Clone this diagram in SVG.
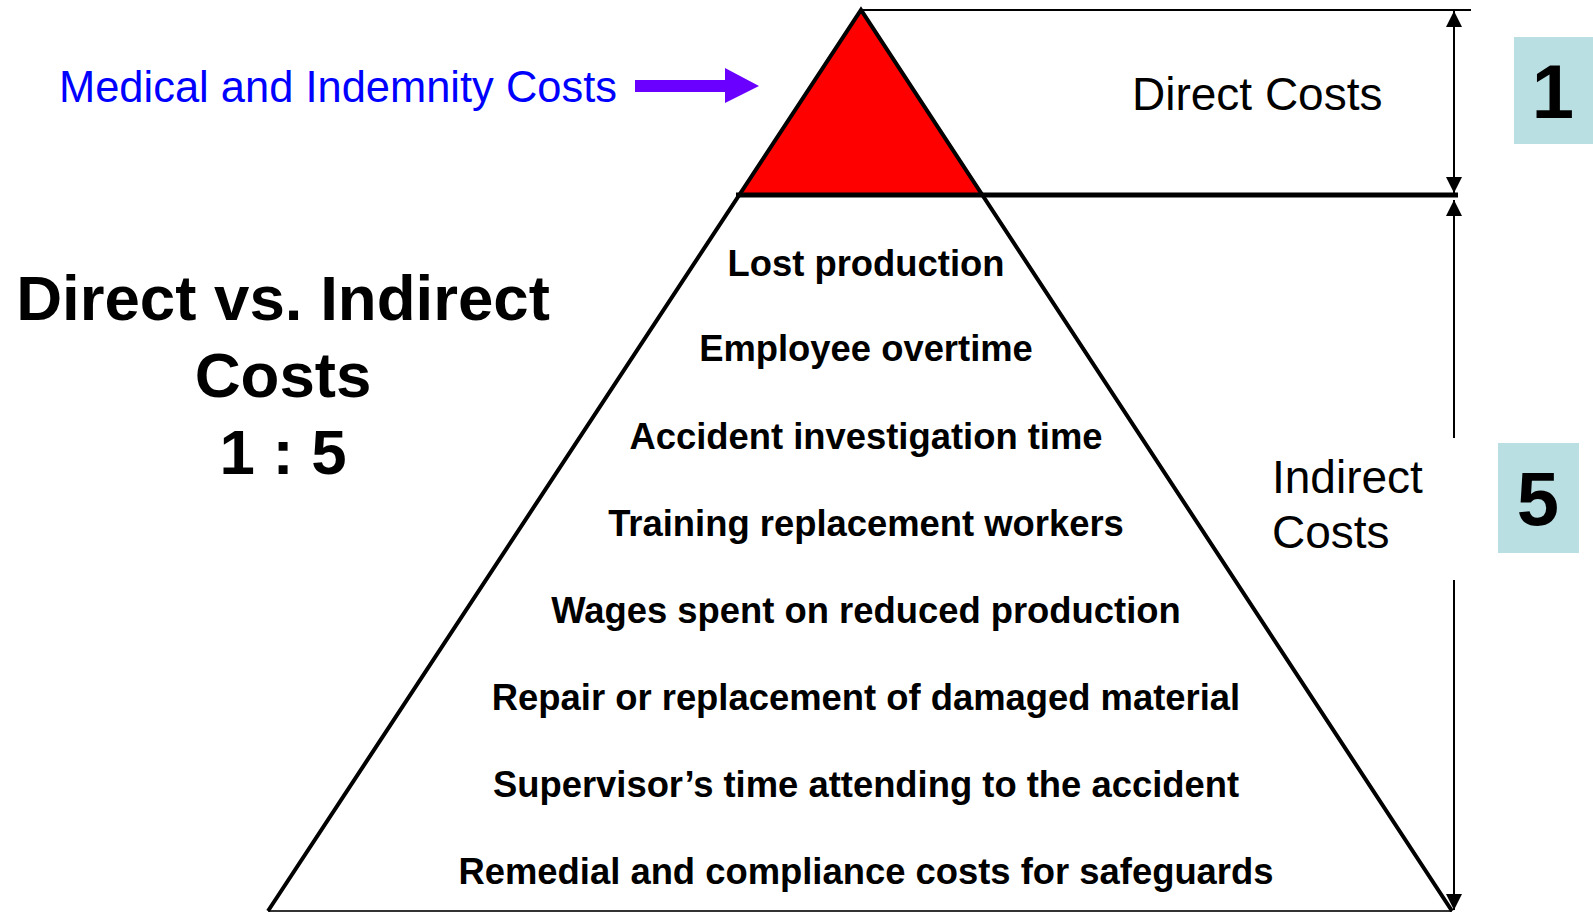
<svg xmlns="http://www.w3.org/2000/svg" width="1593" height="913" viewBox="0 0 1593 913">
<style>
.t{font-family:"Liberation Sans",Arial,sans-serif;}
.item{font-family:"Liberation Sans",Arial,sans-serif;font-weight:bold;font-size:36.4px;fill:#000;text-anchor:middle;}
.lbl{font-family:"Liberation Sans",Arial,sans-serif;font-size:46px;fill:#000;}
.big{font-family:"Liberation Sans",Arial,sans-serif;font-weight:bold;font-size:63.6px;fill:#000;text-anchor:middle;}
.num{font-family:"Liberation Sans",Arial,sans-serif;font-weight:bold;font-size:76px;fill:#000;text-anchor:middle;}
.dim{stroke:#000;stroke-width:2;fill:none;}
</style>
<defs>
<marker id="ah" viewBox="0 0 10 10" refX="10" refY="5" markerWidth="16" markerHeight="16" markerUnits="userSpaceOnUse" orient="auto">
<path d="M0,0 L10,5 L0,10 Z" fill="#000"/>
</marker>
</defs>
<rect width="1593" height="913" fill="#fff"/>

<g id="pyramid">
<polygon points="861,10 739,195 983,195" fill="#ff0000"/>
<line x1="268" y1="911" x2="1452" y2="911" stroke="#333" stroke-width="2"/>
<polyline points="268,911 861,10 1452,911" fill="none" stroke="#000" stroke-width="4" stroke-linejoin="miter"/>
<line x1="736" y1="195" x2="1458" y2="195" stroke="#000" stroke-width="5"/>
<line x1="861" y1="10" x2="1471" y2="10" stroke="#000" stroke-width="2"/>
</g>

<g id="connectors">
<line class="dim" x1="1454" y1="103" x2="1454" y2="11" marker-end="url(#ah)"/>
<line class="dim" x1="1454" y1="103" x2="1454" y2="193" marker-end="url(#ah)"/>
<line class="dim" x1="1454" y1="438" x2="1454" y2="200" marker-end="url(#ah)"/>
<line class="dim" x1="1454" y1="580" x2="1454" y2="910" marker-end="url(#ah)"/>
<polygon id="medical-arrow" points="635,80 725,80 725,68 759,86 725,103 725,92 635,92" fill="#6a00ff"/>
</g>

<g id="medical-label">
<text class="t" x="59" y="102" font-size="44" fill="#0000ff" textLength="558" lengthAdjust="spacingAndGlyphs">Medical and Indemnity Costs</text>
</g>

<g id="direct-label">
<text class="lbl" x="1132" y="110">Direct Costs</text>
</g>

<g id="indirect-label">
<text class="lbl" x="1272" y="493">Indirect</text>
<text class="lbl" x="1272" y="548">Costs</text>
</g>

<g id="box-1">
<rect x="1514" y="37" width="79" height="107" fill="#b9dfe3"/>
<text class="num" x="1553" y="118">1</text>
</g>

<g id="box-5">
<rect x="1498" y="443" width="81" height="110" fill="#b9dfe3"/>
<text class="num" x="1538" y="525">5</text>
</g>

<g id="title">
<text class="big" x="283" y="320">Direct vs. Indirect</text>
<text class="big" x="283" y="397">Costs</text>
<text class="big" x="283" y="474">1 : 5</text>
</g>

<g id="indirect-items">
<text class="item" x="866" y="276">Lost production</text>
<text class="item" x="866" y="361">Employee overtime</text>
<text class="item" x="866" y="449">Accident investigation time</text>
<text class="item" x="866" y="536">Training replacement workers</text>
<text class="item" x="866" y="623">Wages spent on reduced production</text>
<text class="item" x="866" y="710">Repair or replacement of damaged material</text>
<text class="item" x="866" y="797">Supervisor’s time attending to the accident</text>
<text class="item" x="866" y="884">Remedial and compliance costs for safeguards</text>
</g>
</svg>
